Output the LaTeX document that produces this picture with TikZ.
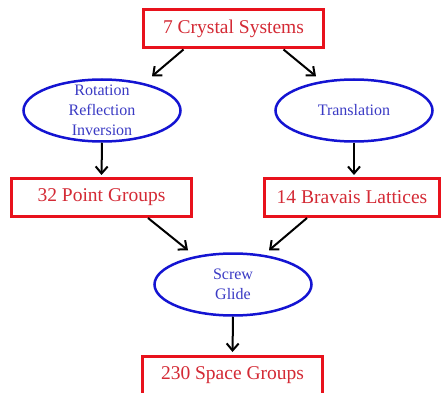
\documentclass[tikz,border=0pt]{standalone}
\usepackage{fontspec}
\setmainfont{Liberation Serif}
\usetikzlibrary{shapes.geometric,arrows.meta,positioning}
\definecolor{boxred}{HTML}{E8121C}
\definecolor{textred}{HTML}{D42A35}
\definecolor{ellblue}{HTML}{1414D2}
\definecolor{textblue}{HTML}{3A3AC4}

\begin{document}
\begin{tikzpicture}[x=1pt,y=-1pt,
  count/.style={draw=boxred,line width=3pt,fill=white,text=textred,
    minimum width=180pt,minimum height=38pt,inner sep=0pt,
    font=\fontsize{19.5}{23}\selectfont},
  op/.style={ellipse,draw=ellblue,line width=2.5pt,text=textblue,
    minimum width=157pt,minimum height=62pt,inner sep=-10pt,align=center,
    font=\fontsize{16}{20}\selectfont},
  link/.style={line width=2pt,-{Straight Barb[length=7pt,width=12pt]}}]
  \useasboundingbox (0,0) rectangle (442,393);
  \clip (0,0) rectangle (442,393);

  % counts and operations
  \node[count] (crys) at (233.5,29) {7 Crystal Systems};
  \node[op] (rot) at (102,110.5) {Rotation\\Reflection\\Inversion};
  \node[op] (tra) at (354,110.5) {Translation};
  \node[count] (pg) at (101.5,197.5) {32 Point Groups};
  \node[count,minimum width=175pt] (bl) at (352,197.5) {14 Bravais Lattices};
  \node[op] (scr) at (233,284.5) {Screw\\Glide};
  \node[count] (sg) at (232.5,375.5) {230 Space Groups};

  % arrows
  \draw[link] ([xshift=-50pt]crys.south) -- ([xshift=50pt,yshift=2pt]rot.north);
  \draw[link] ([xshift=50pt]crys.south) -- ([xshift=-38pt,yshift=2pt]tra.north);
  \draw[link,shorten >=2pt] (rot.south) -- (pg.north);
  \draw[link,shorten >=2pt] (tra.south) -- (tra.south |- bl.north);
  \draw[link] ([xshift=46.5pt]pg.south) -- ([xshift=-45pt,yshift=2pt]scr.north);
  \draw[link] ([xshift=-45pt]bl.south) -- ([xshift=36pt,yshift=2pt]scr.north);
  \draw[link,shorten >=3pt] (scr.south) -- (sg.north);
\end{tikzpicture}
\end{document}
